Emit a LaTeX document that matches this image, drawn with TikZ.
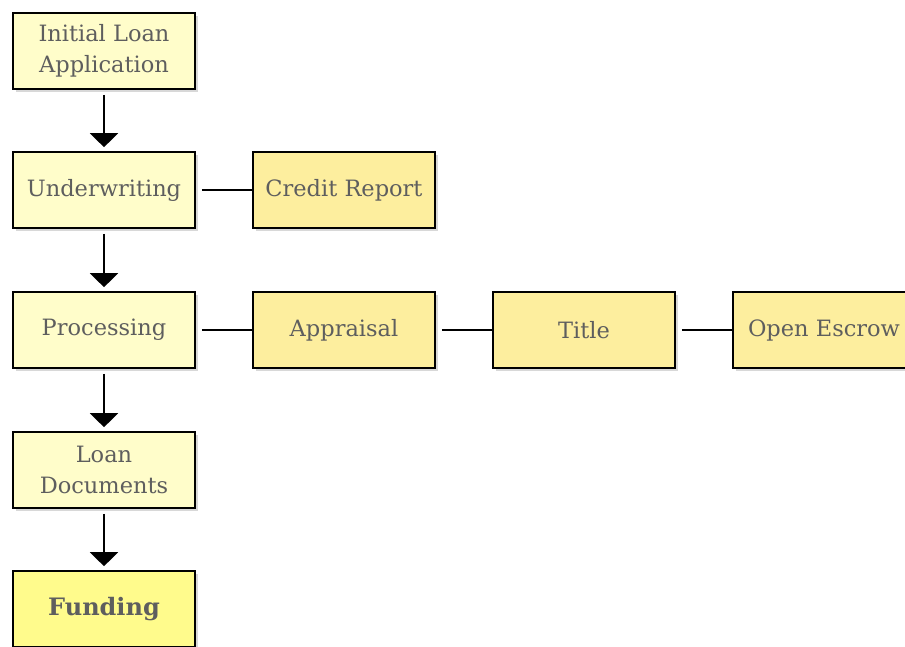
\documentclass[tikz,border=0pt]{standalone}
\usepackage{fontspec}
\setmainfont{DejaVu Serif}
\usetikzlibrary{arrows.meta,shadows}
\definecolor{stepfill}{HTML}{FFFDCA}
\definecolor{taskfill}{HTML}{FDEE9E}
\definecolor{endfill}{HTML}{FFFB8C}
\definecolor{labelgray}{HTML}{5E5E5E}
\definecolor{shadowgray}{HTML}{D8D8D8}
\tikzset{
  box/.style={draw=black, line width=1.6pt, minimum width=182pt, minimum height=76pt,
    inner sep=0pt, align=center, font=\fontsize{22.5}{31}\selectfont, text=labelgray,
    drop shadow={shadow xshift=3pt, shadow yshift=-3pt, fill=shadowgray, opacity=1}},
  stepbox/.style={box, fill=stepfill},
  taskbox/.style={box, fill=taskfill},
  endbox/.style={box, fill=endfill, font=\fontsize{24}{31}\selectfont\bfseries},
  flow/.style={line width=1.6pt, shorten <=5pt, shorten >=4pt,
    -{Triangle[width=28pt,length=14pt]}},
  link/.style={line width=1.6pt}
}
\begin{document}
\begin{tikzpicture}[x=1pt,y=-1pt]
  \useasboundingbox (0,0) rectangle (905,646);
  \clip (0,0) rectangle (905,646);
  % main sequence
  \node[stepbox] (app)   at (104,51)  {Initial Loan\\Application};
  \node[stepbox] (uw)    at (104,190) {Underwriting};
  \node[stepbox] (proc)  at (104,330) {Processing};
  \node[stepbox] (docs)  at (104,470) {Loan\\Documents};
  \node[endbox]  (fund)  at (104,609) {Funding};
  % side tasks
  \node[taskbox] (credit) at (344,190) {Credit Report};
  \node[taskbox] (appr)   at (344,330) {Appraisal};
  \node[taskbox] (title)  at (584,330) {Title};
  \node[taskbox] (escrow) at (824,330) {Open Escrow};
  % connectors
  \draw[flow] (app) -- (uw);
  \draw[flow] (uw) -- (proc);
  \draw[flow] (proc) -- (docs);
  \draw[flow] (docs) -- (fund);
  \draw[link] ([xshift=6pt]uw.east) -- (credit);
  \draw[link] ([xshift=6pt]proc.east) -- (appr);
  \draw[link] ([xshift=6pt]appr.east) -- (title);
  \draw[link] ([xshift=6pt]title.east) -- (escrow);
\end{tikzpicture}
\end{document}
